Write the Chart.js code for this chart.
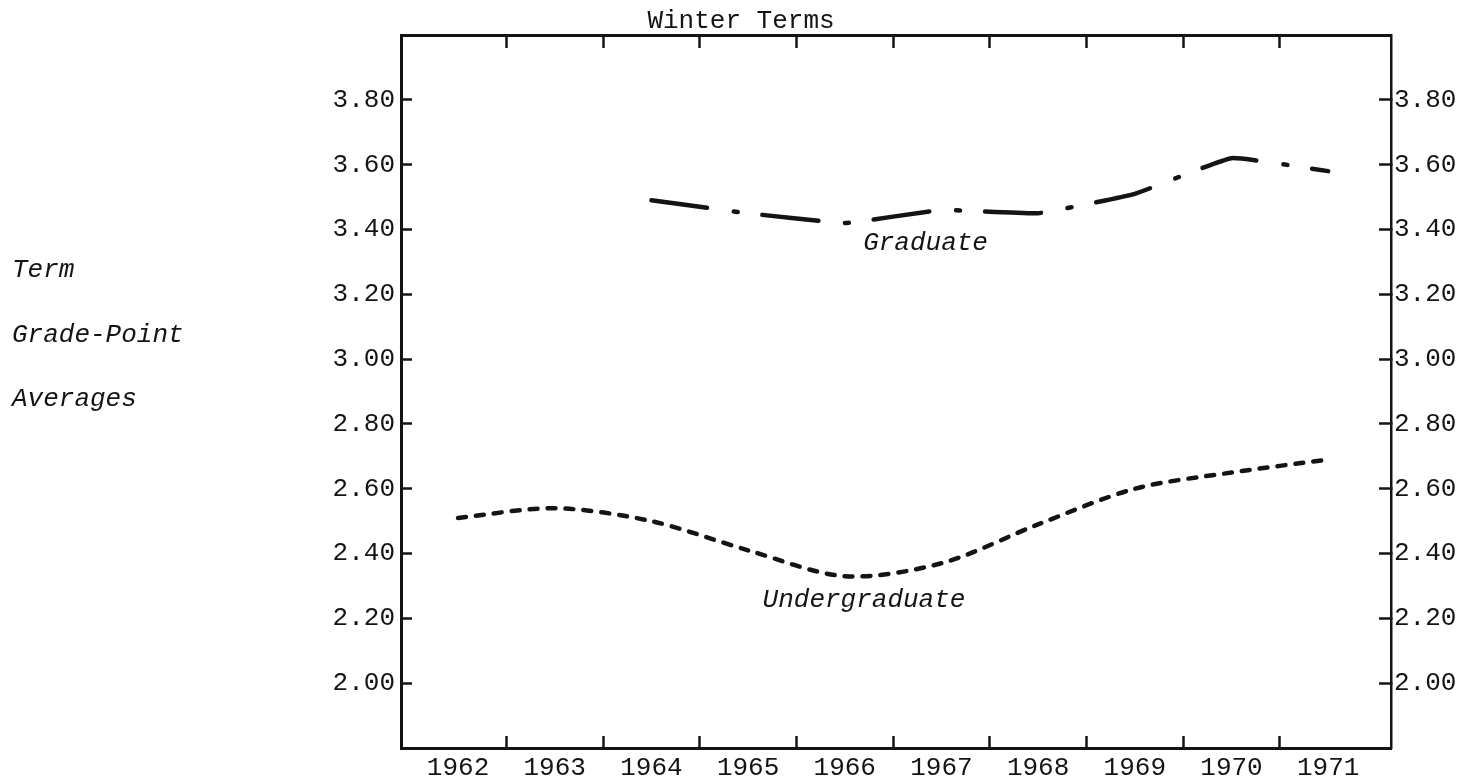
<!DOCTYPE html>
<html>
<head>
<meta charset="utf-8">
<title>Winter Terms - Term Grade-Point Averages</title>
<script src="https://cdn.jsdelivr.net/npm/chart.js@4.4.1/dist/chart.umd.min.js"></script>
<style>
  html, body { margin: 0; padding: 0; background: #fff; }
  #wrap { position: relative; width: 1473px; height: 783px; }
</style>
</head>
<body>
<div id="wrap"><canvas id="gpa-chart" width="1473" height="783"></canvas></div>
<script>
// ---- data ----
const years = [1962, 1963, 1964, 1965, 1966, 1967, 1968, 1969, 1970, 1971];
const undergradGpa = [2.51, 2.54, 2.50, 2.41, 2.33, 2.37, 2.49, 2.60, 2.65, 2.69];
const gradGpa = [null, null, 3.49, 3.45, 3.42, 3.46, 3.45, 3.51, 3.62, 3.58];
const yTicks = [2.00, 2.20, 2.40, 2.60, 2.80, 3.00, 3.20, 3.40, 3.60, 3.80];
const yearBounds = [1962.5, 1963.5, 1964.5, 1965.5, 1966.5, 1967.5, 1968.5, 1969.5, 1970.5];
const sideLabel = ['Term', 'Grade-Point', 'Averages'];

const ink = '#141414';
const typeFont = '"Liberation Mono", "DejaVu Sans Mono", monospace';

// typed annotations: title, left caption and series names
const typedText = {
    id: 'typedText',
    afterDraw(chart) {
        const { ctx } = chart;
        const x = chart.scales.x, y = chart.scales.y;
        ctx.save();
        ctx.fillStyle = ink;
        ctx.textBaseline = 'alphabetic';
        ctx.textAlign = 'left';
        ctx.font = '26px ' + typeFont;
        ctx.fillText('Winter Terms', x.getPixelForValue(1964) - 4, 28);

        ctx.font = 'italic 26px ' + typeFont;
        const baselines = [277, 342, 406];
        sideLabel.forEach((t, i) => ctx.fillText(t, 12, baselines[i]));

        ctx.fillText('Graduate', x.getPixelForValue(1966.19), y.getPixelForValue(3.338));
        ctx.fillText('Undergraduate', x.getPixelForValue(1965.15), y.getPixelForValue(2.234));
        ctx.restore();
    }
};

const tickFont = { family: typeFont, size: 26 };
const isYear = v => Math.abs(v - Math.round(v)) < 1e-6;

const ctx = document.getElementById('gpa-chart').getContext('2d');
new Chart(ctx, {
    type: 'line',
    data: {
        datasets: [
            {
                label: 'Undergraduate',
                data: years.map((yr, i) => ({ x: yr, y: undergradGpa[i] })),
                borderColor: ink,
                borderWidth: 4.5,
                borderDash: [8, 10],
                borderCapStyle: 'round',
                tension: 0.3,
                pointRadius: 0,
                fill: false
            },
            {
                label: 'Graduate',
                data: years.map((yr, i) => ({ x: yr, y: gradGpa[i] })),
                borderColor: ink,
                borderWidth: 4.5,
                borderDash: [56, 27, 4, 25],
                borderCapStyle: 'round',
                tension: 0.1,
                pointRadius: 0,
                fill: false
            }
        ]
    },
    options: {
        responsive: false,
        animation: false,
        layout: { padding: 0 },
        plugins: {
            legend: { display: false },
            title: { display: false },
            tooltip: { enabled: false }
        },
        scales: {
            x: {
                type: 'linear',
                position: 'bottom',
                min: 1961.41,
                max: 1971.65,
                afterBuildTicks: s => {
                    s.ticks = years.concat(yearBounds).sort((a, b) => a - b).map(v => ({ value: v }));
                },
                ticks: {
                    autoSkip: false,
                    maxRotation: 0,
                    padding: 17,
                    color: ink,
                    font: tickFont,
                    callback: v => isYear(v) ? String(Math.round(v)) : ''
                },
                grid: {
                    drawOnChartArea: false,
                    tickLength: -12,
                    tickWidth: 2.5,
                    tickColor: c => (c.tick && isYear(c.tick.value)) ? 'rgba(0,0,0,0)' : ink
                },
                border: { display: true, color: ink, width: 3 },
                afterFit: s => { s.height = 35; }
            },
            xTop: {
                type: 'linear',
                position: 'top',
                min: 1961.41,
                max: 1971.65,
                afterBuildTicks: s => { s.ticks = yearBounds.map(v => ({ value: v })); },
                ticks: { display: false },
                grid: { drawOnChartArea: false, tickLength: -13, tickWidth: 2.5, tickColor: ink },
                border: { display: true, color: ink, width: 3 },
                afterFit: s => { s.height = 35; }
            },
            y: {
                position: 'left',
                min: 1.8,
                max: 4.0,
                afterBuildTicks: s => { s.ticks = yTicks.map(v => ({ value: v })); },
                ticks: { padding: 17, color: ink, font: tickFont, callback: v => v.toFixed(2) },
                grid: { drawOnChartArea: false, tickLength: -11, tickWidth: 2.5, tickColor: ink },
                border: { display: true, color: ink, width: 3 },
                afterFit: s => { s.width = 401; }
            },
            yRight: {
                position: 'right',
                min: 1.8,
                max: 4.0,
                afterBuildTicks: s => { s.ticks = yTicks.map(v => ({ value: v })); },
                ticks: { padding: 15, color: ink, font: tickFont, callback: v => v.toFixed(2) },
                grid: { drawOnChartArea: false, tickLength: -12, tickWidth: 2.5, tickColor: ink },
                border: { display: true, color: ink, width: 2.5 },
                afterFit: s => { s.width = 82; }
            }
        }
    },
    plugins: [typedText]
});
</script>
</body>
</html>
